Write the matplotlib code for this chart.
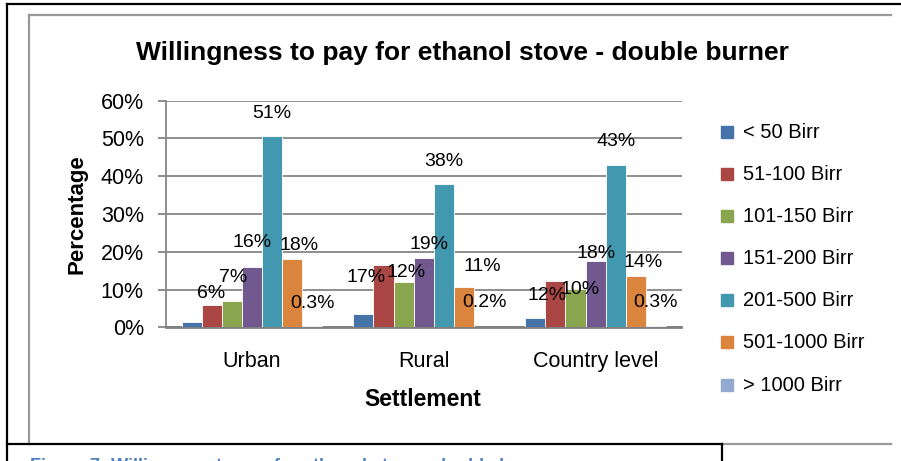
import matplotlib.pyplot as plt
import numpy as np
from matplotlib.lines import Line2D
from matplotlib.patches import Rectangle
from matplotlib.ticker import FuncFormatter

# data (percent)
settlements = ['Urban', 'Rural', 'Country level']
series_names = ['< 50 Birr', '51-100 Birr', '101-150 Birr', '151-200 Birr',
                '201-500 Birr', '501-1000 Birr', '> 1000 Birr']
lt_50 = [1.4, 3.5, 2.4]
b51_100 = [5.9, 16.5, 12.2]
b101_150 = [7.0, 12.0, 10.1]
b151_200 = [16.0, 18.3, 17.5]
b201_500 = [50.6, 37.9, 42.9]
b501_1000 = [18.1, 10.7, 13.7]
gt_1000 = [0.3, 0.2, 0.3]

# data labels as printed (None = no label shown)
lbl_lt_50 = [None, None, None]
lbl_51_100 = ['6%', '17%', '12%']
lbl_101_150 = ['7%', '12%', '10%']
lbl_151_200 = ['16%', '19%', '18%']
lbl_201_500 = ['51%', '38%', '43%']
lbl_501_1000 = ['18%', '11%', '14%']
lbl_gt_1000 = ['0.3%', '0.2%', '0.3%']

series = [lt_50, b51_100, b101_150, b151_200, b201_500, b501_1000, gt_1000]
labels = [lbl_lt_50, lbl_51_100, lbl_101_150, lbl_151_200, lbl_201_500,
          lbl_501_1000, lbl_gt_1000]
colors = ['#4572A7', '#AA4643', '#89A54E', '#71588F', '#4198AF', '#DB843D', '#93A9CF']

# manual label nudges in pixels (dx, dy), like the hand-moved Excel labels
nudges = [
    [(0, 0), (0, 0), (0, 0)],
    [(-1, 12), (-17, -13), (-8, -14)],
    [(1, 23), (2, 9), (5, 0)],
    [(0, 24), (5, 14), (0, 8)],
    [(0, 23), (0, 23), (0, 24)],
    [(7, 13), (18, 20), (7, 13)],
    [(0, 23), (0, 24), (0, 24)],
]

W, H = 901, 461
plt.rcParams['font.family'] = ['Liberation Sans', 'DejaVu Sans']

fig = plt.figure(figsize=(W / 100, H / 100), dpi=100)


def fx(x):
    return x / W


def fy(y):
    return 1 - y / H


def hline(x0, x1, y, color, lw):
    fig.add_artist(Line2D([fx(x0), fx(x1)], [fy(y), fy(y)], color=color, lw=lw,
                          transform=fig.transFigure))


def vline(x, y0, y1, color, lw):
    fig.add_artist(Line2D([fx(x), fx(x)], [fy(y0), fy(y1)], color=color, lw=lw,
                          transform=fig.transFigure))


# page frame / chart border / caption box
hline(7, 901, 4, 'black', 1.6)
vline(7, 4, 461, 'black', 1.6)
hline(29, 891, 15, '#999999', 1.6)
vline(29, 15, 444, '#999999', 1.6)
hline(722, 891, 444, '#999999', 1.6)
hline(7, 722, 444, 'black', 1.6)
vline(722, 444, 461, 'black', 1.6)
# caption below the chart, cut off by the page edge as in the source
fig.text(fx(30), fy(458), 'Figure 7: Willingness to pay for ethanol stove - double burner',
         color='#4F81BD', fontsize=13, fontweight='bold', va='top', ha='left')

ax = fig.add_axes([fx(166), fy(327.3), (681.5 - 166) / W, (327.3 - 100.7) / H])

n = len(series)
w = 0.117
x = np.arange(len(settlements))
for i, (vals, col) in enumerate(zip(series, colors)):
    xs = x + (i - (n - 1) / 2) * w
    ax.bar(xs, vals, width=w, color=col, edgecolor='white', linewidth=0.6, zorder=3)
    for j in range(len(settlements)):
        txt = labels[i][j]
        if txt is None:
            continue
        dx, dy = nudges[i][j]
        ax.annotate(txt, xy=(xs[j], vals[j]), xytext=(dx * 0.72, dy * 0.72),
                    textcoords='offset points', ha='center', va='center',
                    fontsize=14, zorder=4)

ax.set_xlim(-0.5, len(settlements) - 0.5)
ax.set_ylim(0, 60)
ax.set_yticks(np.arange(0, 61, 10))
ax.yaxis.set_major_formatter(FuncFormatter(lambda v, p: f'{v:.0f}%'))
ax.set_xticks(x)
ax.set_xticklabels(settlements)
ax.yaxis.grid(True, color='#868686', lw=1.3, zorder=0)
ax.set_axisbelow(True)
ax.tick_params(axis='y', length=6, width=1.3, color='#868686', pad=10, labelsize=15.5)
ax.tick_params(axis='x', length=0, pad=17, labelsize=15.5)
for s in ['top', 'right']:
    ax.spines[s].set_visible(False)
ax.spines['left'].set_color('#868686')
ax.spines['left'].set_linewidth(1.3)
ax.spines['bottom'].set_color('#808080')
ax.spines['bottom'].set_linewidth(2)

fig.text(fx(462), fy(53), 'Willingness to pay for ethanol stove - double burner',
         fontsize=19, fontweight='bold', ha='center', va='center')
fig.text(fx(423), fy(399), 'Settlement', fontsize=16.5,
         fontweight='bold', ha='center', va='center')
fig.text(fx(77), fy(214), 'Percentage', fontsize=16,
         fontweight='bold', ha='center', va='center', rotation=90)

# legend, one row per series
row_y = [132, 174, 216, 258, 300, 342, 385]
for name, col, ry in zip(series_names, colors, row_y):
    fig.add_artist(Rectangle((fx(721), fy(ry + 6)), 12 / W, 12 / H, color=col,
                             transform=fig.transFigure))
    fig.text(fx(743), fy(ry), name, fontsize=14.5, ha='left', va='center')

fig.savefig('out.png', dpi=100)
